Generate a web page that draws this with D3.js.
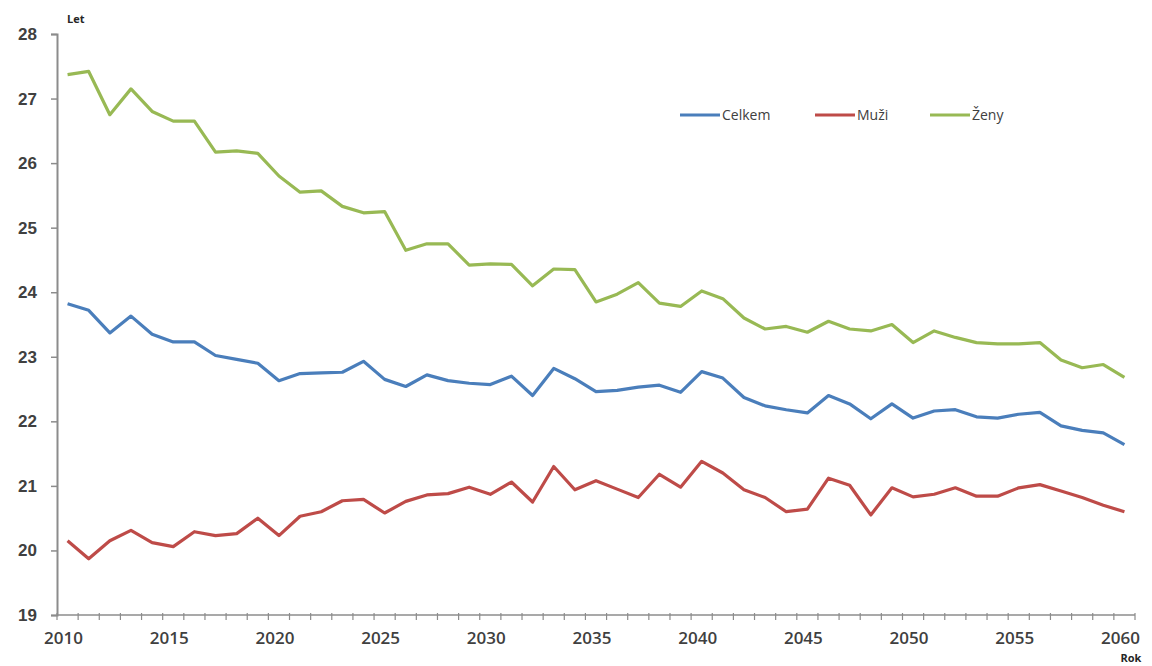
<!DOCTYPE html>
<html>
<head>
<meta charset="utf-8">
<script src="https://cdn.jsdelivr.net/npm/d3@7"></script>
<style>
    body { margin: 0; background: #fff; }
    svg { display: block; font-family: "Open Sans", "DejaVu Sans", sans-serif; }
</style>
</head>
<body>
<svg id="chart" width="1152" height="666"></svg>
<script>
// Data
const years = d3.range(2010, 2061);

const celkem = [
    23.82, 23.72, 23.37, 23.63, 23.35, 23.23, 23.23, 23.02, 22.96, 22.90,
    22.63, 22.74, 22.75, 22.76, 22.93, 22.65, 22.54, 22.72, 22.63, 22.59,
    22.57, 22.70, 22.40, 22.82, 22.66, 22.46, 22.48, 22.53, 22.56, 22.45,
    22.77, 22.67, 22.37, 22.24, 22.18, 22.13, 22.40, 22.27, 22.04, 22.27,
    22.05, 22.16, 22.18, 22.07, 22.05, 22.11, 22.14, 21.93, 21.86, 21.82,
    21.64
];

const muzi = [
    20.15, 19.87, 20.15, 20.31, 20.12, 20.06, 20.29, 20.23, 20.26, 20.50,
    20.23, 20.53, 20.60, 20.77, 20.79, 20.58, 20.76, 20.86, 20.88, 20.98,
    20.87, 21.06, 20.75, 21.30, 20.94, 21.08, 20.95, 20.82, 21.18, 20.98,
    21.38, 21.20, 20.94, 20.82, 20.60, 20.64, 21.12, 21.01, 20.55, 20.97,
    20.83, 20.87, 20.97, 20.84, 20.84, 20.97, 21.02, 20.92, 20.82, 20.70,
    20.60
];

const zeny = [
    27.37, 27.42, 26.75, 27.15, 26.80, 26.65, 26.65, 26.17, 26.19, 26.15,
    25.80, 25.55, 25.57, 25.33, 25.23, 25.25, 24.65, 24.75, 24.75, 24.42,
    24.44, 24.43, 24.10, 24.36, 24.35, 23.85, 23.97, 24.15, 23.83, 23.78,
    24.02, 23.90, 23.60, 23.43, 23.47, 23.38, 23.55, 23.43, 23.40, 23.50,
    23.22, 23.40, 23.30, 23.22, 23.20, 23.20, 23.22, 22.95, 22.83, 22.88,
    22.68
];

const yTicks = [19, 20, 21, 22, 23, 24, 25, 26, 27, 28];
const xLabels = [2010, 2015, 2020, 2025, 2030, 2035, 2040, 2045, 2050, 2055, 2060];

const seriesNames = ['Celkem', 'Muži', 'Ženy'];
const seriesColors = ['#4a7ebb', '#be4b48', '#98b954'];

const svg = d3.select('#chart');

// Scales
const x = d3.scaleBand().domain(years).range([57, 1135]).padding(0);
const y = d3.scaleLinear().domain([19, 28]).range([615, 34]);
const cx = d => x(d) + x.bandwidth() / 2;

// Y axis
const yAxis = svg.append('g')
    .attr('transform', 'translate(57,0)')
    .call(d3.axisLeft(y).tickValues(yTicks).tickSize(6).tickPadding(14).tickFormat(d3.format('d')));
yAxis.select('.domain').attr('stroke', '#8c8c8c').attr('stroke-width', 2);
yAxis.selectAll('.tick line').attr('stroke', '#8c8c8c').attr('stroke-width', 1.5);
yAxis.selectAll('.tick text')
    .attr('font-size', 17).attr('font-weight', 600).attr('fill', '#404040');

// X axis: category ticks between years, labels every 5 years
const xg = svg.append('g').attr('transform', 'translate(0,615)');
xg.append('line')
    .attr('x1', 57).attr('x2', 1135)
    .attr('stroke', '#8c8c8c').attr('stroke-width', 1.5);
xg.selectAll('line.tk')
    .data(years.concat([2061]))
    .enter()
    .append('line')
    .attr('class', 'tk')
    .attr('x1', d => d === 2061 ? 1135 : x(d))
    .attr('x2', d => d === 2061 ? 1135 : x(d))
    .attr('y1', -2).attr('y2', 5)
    .attr('stroke', '#8c8c8c').attr('stroke-width', 1.2);
xg.selectAll('text')
    .data(xLabels)
    .enter()
    .append('text')
    .attr('x', d => cx(d) - 4)
    .attr('y', 29)
    .attr('text-anchor', 'middle')
    .attr('font-size', 17).attr('font-weight', 600).attr('fill', '#404040')
    .text(d => d);

// Axis titles
svg.append('text')
    .attr('x', 67).attr('y', 23)
    .attr('font-size', 11).attr('font-weight', 700).attr('fill', '#262626')
    .text('Let');
svg.append('text')
    .attr('x', 1131).attr('y', 662)
    .attr('text-anchor', 'middle')
    .attr('font-size', 11).attr('font-weight', 700).attr('fill', '#262626')
    .text('Rok');

// Lines
const line = d3.line()
    .x((d, i) => cx(years[i]))
    .y(d => y(d));

[celkem, muzi, zeny].forEach((values, i) => {
    svg.append('path')
        .datum(values)
        .attr('fill', 'none')
        .attr('stroke', seriesColors[i])
        .attr('stroke-width', 3.2)
        .attr('stroke-linejoin', 'round')
        .attr('d', line);
});

// Legend
const legendX = [680, 815, 930];
const legend = svg.append('g').attr('transform', 'translate(0,115)');
seriesNames.forEach((name, i) => {
    legend.append('line')
        .attr('x1', legendX[i]).attr('x2', legendX[i] + 40)
        .attr('stroke', seriesColors[i]).attr('stroke-width', 3);
    legend.append('text')
        .attr('x', legendX[i] + 42).attr('y', 5)
        .attr('font-size', 14).attr('fill', '#404040')
        .text(name);
});
</script>
</body>
</html>
